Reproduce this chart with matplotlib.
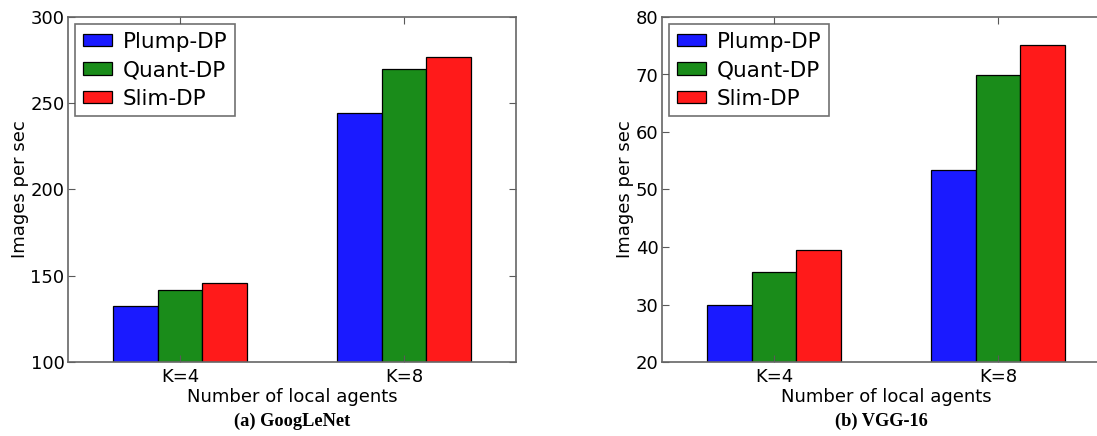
import numpy as np
import matplotlib
matplotlib.use("Agg")
import matplotlib.pyplot as plt

groups = ["K=4", "K=8"]
methods = ["Plump-DP", "Quant-DP", "Slim-DP"]
colors = ["#1a1aff", "#1a8c1a", "#ff1a1a"]

googlenet = {"Plump-DP": [132.5, 244.5], "Quant-DP": [141.5, 270.0], "Slim-DP": [146.0, 277.0]}
vgg16 = {"Plump-DP": [29.9, 53.4], "Quant-DP": [35.7, 69.9], "Slim-DP": [39.5, 75.1]}

panels = [
    (googlenet, (100, 300), [100, 150, 200, 250, 300], "(a) GoogLeNet"),
    (vgg16, (20, 80), [20, 30, 40, 50, 60, 70, 80], "(b) VGG-16"),
]

fig = plt.figure(figsize=(10.97, 4.36), dpi=100)
fig.patch.set_facecolor("white")
lefts = [68 / 1097, 662 / 1097]
width = 448 / 1097
bottom = 74 / 436
height = 345 / 436

x = np.arange(len(groups))
bw = 0.2
for (data, ylim, yticks, caption), left in zip(panels, lefts):
    ax = fig.add_axes([left, bottom, width, height])
    for i, (m, c) in enumerate(zip(methods, colors)):
        ax.bar(x + (i - 1) * bw, data[m], bw, color=c, edgecolor="black",
               linewidth=0.9, label=m)
    ax.set_xlim(-0.5, 1.5)
    ax.set_ylim(*ylim)
    ax.set_yticks(yticks)
    ax.set_xticks(x)
    ax.set_xticklabels(groups)
    ax.tick_params(direction="in", top=True, right=True, labelsize=13,
                   length=5, color="0.35", pad=2.5)
    ax.tick_params(axis="x", pad=4)
    for s in ax.spines.values():
        s.set_color("0.4")
        s.set_linewidth(1.2)
    ax.set_xlabel("Number of local agents", fontsize=13, labelpad=2)
    ax.set_ylabel("Images per sec", fontsize=13, labelpad=1)
    leg = ax.legend(loc="upper left", fontsize=15.5, handlelength=1.35,
                    handleheight=0.5, borderaxespad=0.33, fancybox=False,
                    labelspacing=0.4, handletextpad=0.5, borderpad=0.35)
    leg.get_frame().set_edgecolor("0.3")
    leg.get_frame().set_linewidth(1.2)
    cx = left + width / 2 if left < 0.5 else 881 / 1097
    fig.text(cx, 1 - 421 / 436, caption, ha="center", va="center",
             fontsize=13.2, fontweight="bold", family="Liberation Serif")

fig.savefig("out.png", dpi=100, facecolor="white")
